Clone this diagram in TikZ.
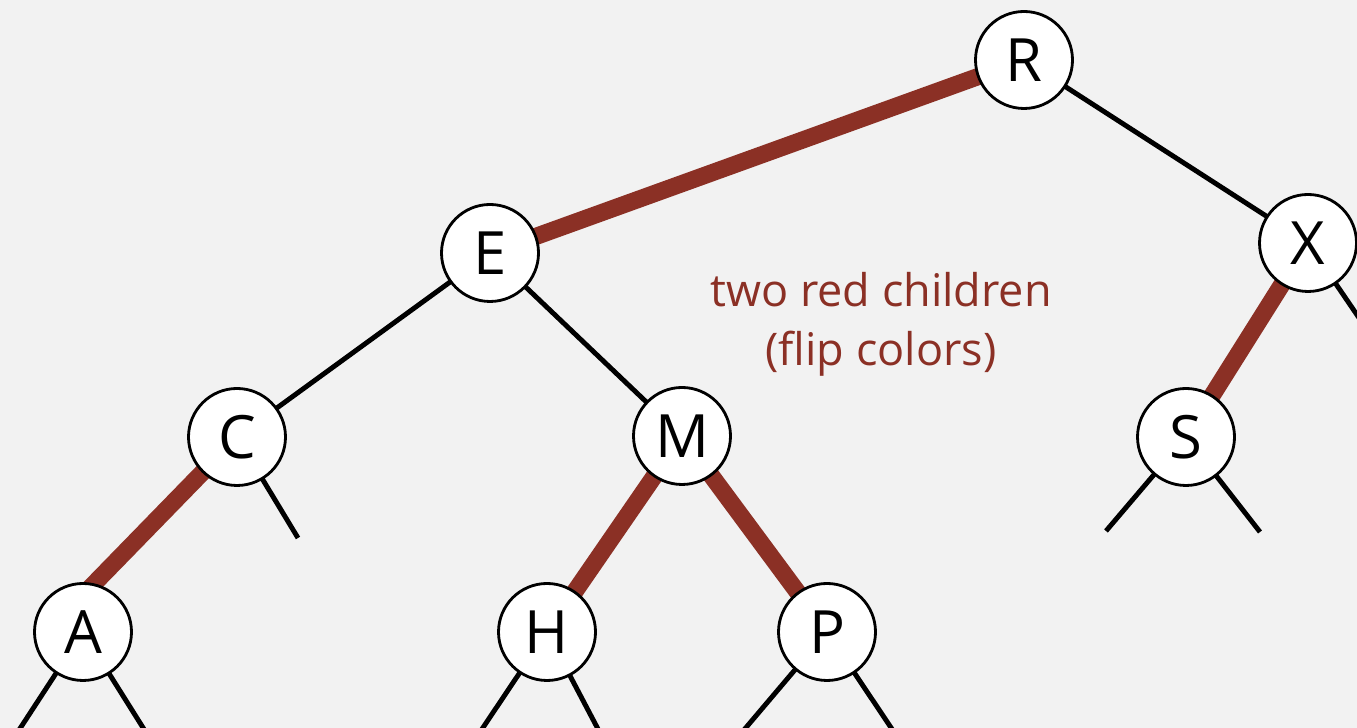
\documentclass[tikz,border=0pt]{standalone}
\usepackage{fontspec}
\setmainfont{Open Sans}
\usetikzlibrary{backgrounds}
\definecolor{bg}{HTML}{F2F2F2}
\definecolor{rbred}{HTML}{8B3025}
\tikzset{
  rbnode/.style={circle, draw=black, line width=0.8pt, fill=white, minimum size=0.97cm, inner sep=0pt, font=\fontsize{17}{20}\selectfont},
  blackedge/.style={draw=black, line width=1.4pt},
  rededge/.style={draw=rbred, line width=4.9pt},
  note/.style={text=rbred, align=center, font=\fontsize{12.8}{17}\selectfont}
}
\begin{document}
\begin{tikzpicture}
\useasboundingbox (0,0) rectangle (13.57,7.28);
\node[rbnode] (R) at (10.24,6.68) {R};
\node[rbnode] (E) at (4.90,4.75) {E};
\node[rbnode] (X) at (13.08,4.85) {X};
\node[rbnode] (C) at (2.37,2.91) {C};
\node[rbnode] (M) at (6.82,2.92) {M};
\node[rbnode] (S) at (11.86,2.91) {S};
\node[rbnode] (A) at (0.83,0.96) {A};
\node[rbnode] (H) at (5.47,0.96) {H};
\node[rbnode] (P) at (8.27,0.96) {P};
\coordinate (ca) at (0.85,1.35);
\coordinate (cr) at (2.98,1.90);
\coordinate (al) at (0.06,-0.22);
\coordinate (ar) at (1.57,-0.22);
\coordinate (hl) at (4.68,-0.22);
\coordinate (hr) at (6.09,-0.22);
\coordinate (pl) at (7.27,-0.22);
\coordinate (pr) at (9.06,-0.22);
\coordinate (sl) at (11.06,1.97);
\coordinate (sr) at (12.60,1.96);
\coordinate (xr) at (14.00,3.50);
\node[note, anchor=base] (lbl) at (8.81,3.62) {two red children\\(flip colors)};
\begin{pgfonlayer}{background}
\fill[bg] (0,0) rectangle (13.57,7.28);
\clip (0,0) rectangle (13.57,7.28);
\draw[rededge] (R.center) -- (E.center);
\draw[blackedge] (R.center) -- (X.center);
\draw[blackedge] (E.center) -- (C.center);
\draw[blackedge] (E.center) -- (M.center);
\draw[rededge] (X.center) -- (S.center);
\draw[blackedge] (X.center) -- (xr);
\draw[rededge] (C.center) -- (ca);
\draw[blackedge] (C.center) -- (cr);
\draw[rededge] (M.center) -- (H.center);
\draw[rededge] (M.center) -- (P.center);
\draw[blackedge] (S.center) -- (sl);
\draw[blackedge] (S.center) -- (sr);
\draw[blackedge] (A.center) -- (al);
\draw[blackedge] (A.center) -- (ar);
\draw[blackedge] (H.center) -- (hl);
\draw[blackedge] (H.center) -- (hr);
\draw[blackedge] (P.center) -- (pl);
\draw[blackedge] (P.center) -- (pr);
\end{pgfonlayer}
\end{tikzpicture}
\end{document}
